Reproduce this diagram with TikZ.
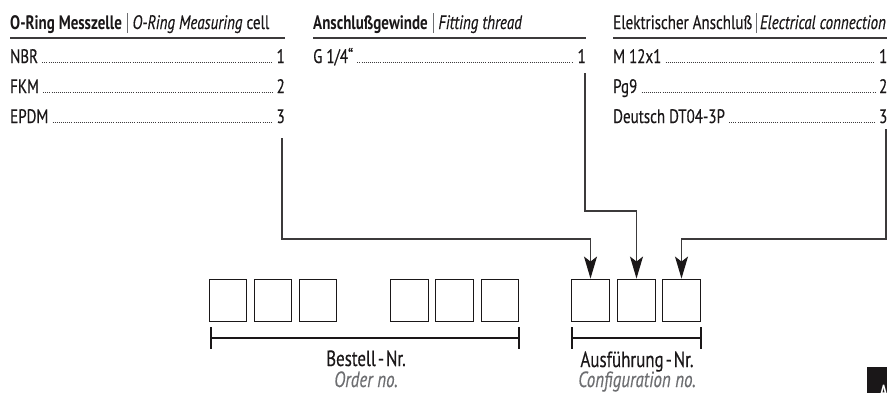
\documentclass[tikz,border=0pt]{standalone}
\usepackage{fontspec}
\setmainfont{PT Sans}[FakeStretch=0.77, UprightFeatures={FakeBold=0.3}, ItalicFeatures={FakeBold=0.3}]
\usetikzlibrary{arrows.meta}
\definecolor{ink}{HTML}{1A1718}
\definecolor{soft}{HTML}{6D6E71}
\newcommand\hdrbar[1][5pt]{\hspace{#1}{\color{soft}\rule[-4pt]{0.6pt}{20pt}}\hspace{#1}}
\begin{document}
\begin{tikzpicture}[x=1pt,y=-1pt,
  txt/.style={inner sep=0pt, font=\fontsize{19.5}{22}\selectfont, text=ink},
  lbl/.style={txt, anchor=base west},
  num/.style={txt, anchor=base east},
  hdr/.style={txt, anchor=base west},
  hrule/.style={draw=ink!85, line width=1.5pt},
  leader/.style={draw=ink!85, line width=1pt, dash pattern=on 0.7pt off 1.4pt},
  cell/.style={draw=ink, line width=0.9pt, minimum width=37.5pt, minimum height=42pt, inner sep=0pt},
  conn/.style={draw=ink!85, line width=1.2pt},
  tipped/.style={-{Stealth[length=22pt,width=13pt,inset=5pt,color=ink,fill=ink]}},
  bracket/.style={draw=ink, line width=2.2pt},
  big/.style={inner sep=0pt, anchor=base, font=\fontsize{22}{26}\selectfont, text=ink},
  bigit/.style={big, font=\fontsize{22}{26}\selectfont\itshape, text=soft}
]
\useasboundingbox (0,0) rectangle (887,392);

% ---- column 1
\node[hdr] (h1) at (10,29) {\textbf{O-Ring Messzelle}\hdrbar\textit{O-Ring Measuring} cell};
\draw[hrule] (10,38) -- (285,38);
\node[lbl] (a1) at (10,63) {NBR};
\node[num] (n11) at (285,63) {1};
\node[lbl] (a2) at (10,93) {FKM};
\node[num] (n12) at (285,93) {2};
\node[lbl] (a3) at (10,123) {EPDM};
\node[num] (n13) at (285,123) {3};
\foreach \l/\n in {a1/n11,a2/n12,a3/n13}
  \draw[leader] ([xshift=4pt,yshift=1pt]\l.base east) -- ([xshift=-4pt,yshift=1pt]\n.base west);

% ---- column 2
\node[hdr] (h2) at (313,29) {\textbf{Anschlußgewinde}\hdrbar\textit{Fitting thread}};
\draw[hrule] (313,38) -- (586,38);
\node[lbl] (g1) at (313,63) {G 1/4“};
\node[num] (n21) at (586,63) {1};
\draw[leader] ([xshift=4pt,yshift=1pt]g1.base east) -- ([xshift=-4pt,yshift=1pt]n21.base west);

% ---- column 3
\node[hdr] (h3) at (613,29) {Elektrischer Anschluß\hdrbar[3.5pt]\textit{Electrical connection}};
\draw[hrule] (613,38) -- (890,38);
\node[lbl] (e1) at (613,63) {M 12x1};
\node[num] (n31) at (887.5,63) {1};
\node[lbl] (e2) at (613,93) {Pg9};
\node[num] (n32) at (887.5,93) {2};
\node[lbl] (e3) at (613,123) {Deutsch DT04-3P};
\node[num] (n33) at (887.5,123) {3};
\foreach \l/\n in {e1/n31,e2/n32,e3/n33}
  \draw[leader] ([xshift=4pt,yshift=1pt]\l.base east) -- ([xshift=-4pt,yshift=1pt]\n.base west);

% ---- boxes
\foreach \x [count=\i] in {228,273,318,409.5,454.5,500,590.5,636.5,681.5}
  \node[cell] (b\i) at (\x,300) {};

% ---- connectors
\coordinate (s1) at (282,138);
\coordinate (s2) at (585,73);
\coordinate (s3) at (886,129);
\draw[conn,tipped] (s1) -- (282,239) -| (b7.north);
\draw[conn,tipped] (s2) -- (585,211) -| (b8.north);
\draw[conn,tipped] (s3) -- (886,239) -| (b9.north);

% ---- brackets
\draw[bracket] (211,327) -- (211,349);
\draw[bracket] (211,338) -- (519,338);
\draw[bracket] (519,327) -- (519,349);
\draw[bracket] (572,327) -- (572,349);
\draw[bracket] (572,338) -- (701,338);
\draw[bracket] (701,327) -- (701,349);

\node[big] (ordde) at (366,366) {Bestell\kern2pt-\kern2pt Nr.};
\node[bigit] (orden) at (366,387) {Order no.};
\node[big] (cfgde) at (637,367) {Ausführung\kern2pt-\kern2pt Nr.};
\node[bigit] (cfgen) at (637,387) {Configuration no.};

% ---- tab
\fill[ink] (867,367) rectangle (890,395);
\node[inner sep=0pt, anchor=base west, text=white, font=\fontsize{17.5}{20}\selectfont\bfseries] (tab) at (879.5,397) {A};
\end{tikzpicture}
\end{document}
